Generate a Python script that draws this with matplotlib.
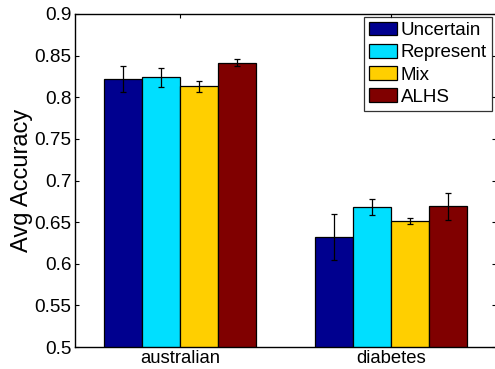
import matplotlib
matplotlib.use("Agg")
import matplotlib.pyplot as plt
import numpy as np

datasets = ["australian", "diabetes"]
methods = ["Uncertain", "Represent", "Mix", "ALHS"]
uncertain = [0.822, 0.6325]
represent = [0.824, 0.668]
mix = [0.813, 0.6518]
alhs = [0.8415, 0.669]
uncertain_err = [0.016, 0.0275]
represent_err = [0.0115, 0.0095]
mix_err = [0.0065, 0.0037]
alhs_err = [0.0045, 0.0165]
yticks = [0.5, 0.55, 0.6, 0.65, 0.7, 0.75, 0.8, 0.85, 0.9]

colors = ["#00008F", "#00DFFF", "#FFCF00", "#800000"]
series = [uncertain, represent, mix, alhs]
errs = [uncertain_err, represent_err, mix_err, alhs_err]

plt.rcParams['font.family'] = ['Liberation Sans', 'DejaVu Sans']

fig = plt.figure(figsize=(4.95, 3.69), dpi=100)
ax = fig.add_axes([75/495, 22/369, 421/495, 333/369])

x = np.arange(1, len(datasets) + 1)
w = 0.18
for i, (vals, e, c, m) in enumerate(zip(series, errs, colors, methods)):
    pos = x + (i - 1.5) * w
    ax.bar(pos, vals, width=w, color=c, edgecolor='black', linewidth=0.9, label=m, zorder=2)
    ax.errorbar(pos, vals, yerr=e, fmt='none', ecolor='black', elinewidth=0.9,
                capsize=2.2, capthick=0.9, zorder=3)

ax.set_xlim(0.5, 2.5)
ax.set_ylim(0.5, 0.9)
ax.set_xticks(x)
ax.set_xticklabels(datasets, fontsize=13.3)
ax.set_yticks(yticks)
ax.set_yticklabels([f"{v:g}" for v in yticks], fontsize=13.7)
ax.tick_params(direction='in', length=3, width=0.8, top=True, right=True, pad=2.5)
ax.set_ylabel("Avg Accuracy", fontsize=17, labelpad=1)
for s in ax.spines.values():
    s.set_linewidth(1.0)

leg = ax.legend(loc='upper right', bbox_to_anchor=(492/495, 1 - 17/369),
                bbox_transform=fig.transFigure, fontsize=13.5, frameon=True,
                fancybox=False, edgecolor='black', handlelength=1.5, handleheight=0.71,
                handletextpad=0.2, labelspacing=0.26, borderpad=0.28, borderaxespad=0)
leg.get_frame().set_linewidth(0.9)

fig.savefig("out.png", dpi=100)
